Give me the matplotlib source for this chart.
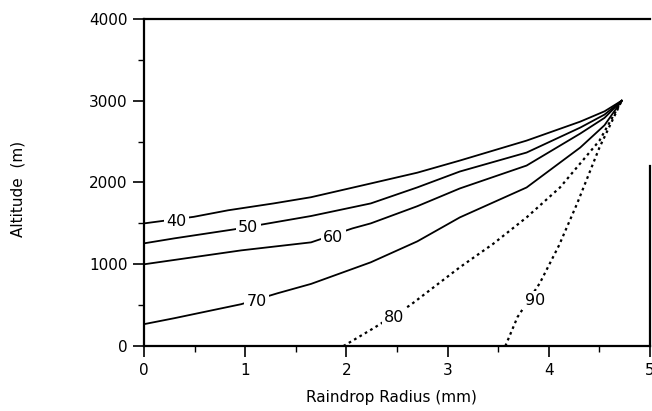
import numpy as np
import matplotlib.pyplot as plt
from matplotlib.ticker import MultipleLocator

plt.rcParams['font.family'] = ['DejaVu Sans']

# curves: raindrop radius (mm) vs altitude (m)
r40 = [0, 0.49, 0.83, 1.28, 1.65, 2.24, 2.7, 3.12, 3.78, 4.31, 4.55, 4.72]
h40 = [1500, 1580, 1660, 1744, 1820, 1988, 2120, 2268, 2512, 2744, 2870, 3000]
r50 = [0, 0.3, 0.89, 1.23, 1.65, 2.24, 2.7, 3.12, 3.78, 4.31, 4.55, 4.72]
h50 = [1256, 1317, 1427, 1500, 1590, 1744, 1940, 2134, 2366, 2671, 2830, 3000]
r60 = [0, 0.96, 1.65, 2.06, 2.24, 2.7, 3.12, 3.78, 4.31, 4.55, 4.72]
h60 = [1000, 1170, 1268, 1439, 1500, 1710, 1927, 2207, 2598, 2790, 3000]
r70 = [0, 0.3, 0.96, 1.32, 1.65, 2.24, 2.7, 3.12, 3.78, 4.31, 4.55, 4.72]
h70 = [268, 341, 512, 646, 760, 1024, 1280, 1573, 1939, 2427, 2700, 3000]
r80 = [1.97, 2.27, 2.63, 3.12, 3.45, 3.78, 4.11, 4.50, 4.72]
h80 = [0, 220, 500, 963, 1250, 1573, 1939, 2512, 3000]
r90 = [3.57, 3.69, 3.91, 4.1, 4.28, 4.50, 4.72]
h90 = [0, 354, 768, 1230, 1744, 2427, 3000]

labels = ["40", "50", "60", "70", "80", "90"]
label_r = [0.32, 1.03, 1.87, 1.11, 2.47, 3.86]
label_h = [1525, 1450, 1330, 550, 354, 560]

fig = plt.figure(figsize=(6.52, 4.11), dpi=100)
ax = fig.add_axes([0.221, 0.158, 0.776, 0.796])

for r, h in [(r40, h40), (r50, h50), (r60, h60), (r70, h70)]:
    ax.plot(r, h, color='black', lw=1.3)
for r, h in [(r80, h80), (r90, h90)]:
    ax.plot(r, h, color='black', lw=1.6, linestyle=(0, (1.2, 1.6)))

for t, x, y in zip(labels, label_r, label_h):
    ax.text(x, y, t, fontsize=11.5, ha='center', va='center',
            bbox=dict(facecolor='white', edgecolor='none', pad=1.5))

ax.set_xlim(0, 5)
ax.set_ylim(0, 4000)
ax.xaxis.set_major_locator(MultipleLocator(1))
ax.xaxis.set_minor_locator(MultipleLocator(0.5))
ax.yaxis.set_major_locator(MultipleLocator(1000))
ax.yaxis.set_minor_locator(MultipleLocator(500))
ax.tick_params(which='major', direction='out', length=8, width=1.2, labelsize=11, pad=4)
ax.tick_params(which='minor', direction='out', length=4, width=1)

for s in ['left', 'bottom', 'top', 'right']:
    ax.spines[s].set_linewidth(1.6)
ax.spines['right'].set_bounds(0, 2200)

fig.text(0.028, 0.54, "Altitude  (m)", rotation=90, ha='center', va='center', fontsize=11)
fig.text(0.6, 0.034, "Raindrop Radius (mm)", ha='center', va='center', fontsize=11)

fig.savefig("out.png", dpi=100)
